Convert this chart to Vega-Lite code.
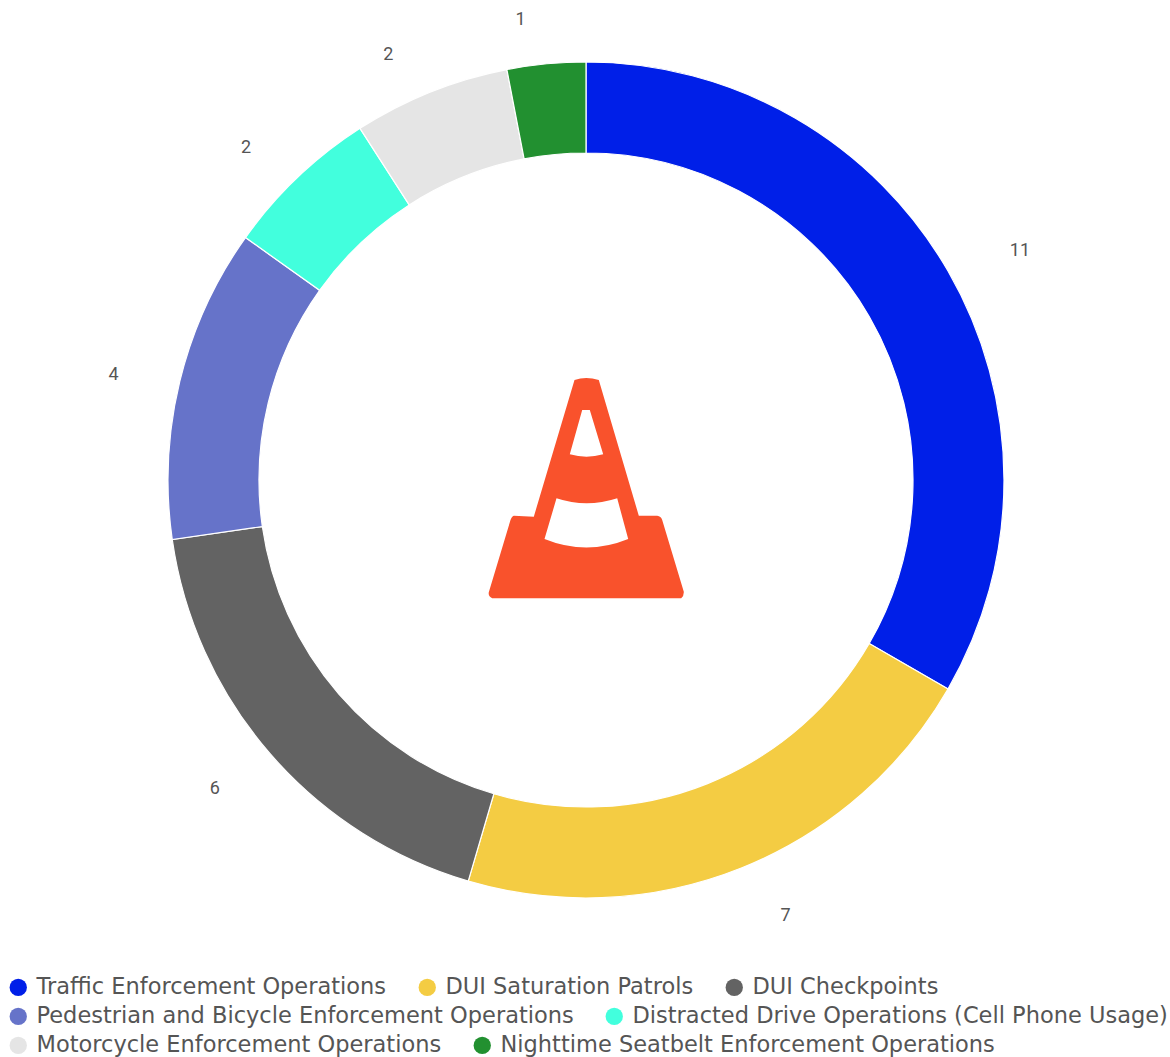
{
  "$schema": "https://vega.github.io/schema/vega-lite/v6.json",
  "width": 1168,
  "height": 960,
  "padding": {"left": 2, "top": 0, "right": 0, "bottom": 97},
  "autosize": {"type": "none"},
  "background": "white",
  "config": {
    "view": {"stroke": null},
    "font": "DejaVu Sans",
    "legend": {
      "orient": "none",
      "direction": "horizontal",
      "title": null,
      "symbolType": "circle",
      "symbolSize": 300,
      "symbolStrokeWidth": 0,
      "symbolOpacity": 1,
      "labelFont": "DejaVu Sans",
      "labelFontSize": 22.5,
      "labelColor": "#555555",
      "labelOffset": 7,
      "columnPadding": 29,
      "labelLimit": 700,
      "gridAlign": "each"
    }
  },
  "data": {"values": [
    {"idx": 1, "name": "Traffic Enforcement Operations", "value": 11, "row": 1},
    {"idx": 2, "name": "DUI Saturation Patrols", "value": 7, "row": 1},
    {"idx": 3, "name": "DUI Checkpoints", "value": 6, "row": 1},
    {"idx": 4, "name": "Pedestrian and Bicycle Enforcement Operations", "value": 4, "row": 2},
    {"idx": 5, "name": "Distracted Drive Operations (Cell Phone Usage)", "value": 2, "row": 2},
    {"idx": 6, "name": "Motorcycle Enforcement Operations", "value": 2, "row": 3},
    {"idx": 7, "name": "Nighttime Seatbelt Enforcement Operations", "value": 1, "row": 3}
  ]},
  "transform": [
    {"stack": "value", "groupby": [], "sort": [{"field": "idx", "order": "ascending"}], "as": ["v0", "v1"]}
  ],
  "layer": [
    {
      "transform": [{"filter": "datum.row == 1"}],
      "mark": {"type": "arc", "radius": 418, "radius2": 327, "stroke": "white", "strokeWidth": 1.2},
      "encoding": {
        "theta": {"field": "v0", "type": "quantitative", "scale": {"domain": [0, 33]}},
        "theta2": {"field": "v1"},
        "color": {
          "field": "name", "type": "nominal",
          "scale": {"domain": ["Traffic Enforcement Operations", "DUI Saturation Patrols", "DUI Checkpoints"], "range": ["#001FE8", "#F4CC43", "#636363"]},
          "legend": {"columns": 3, "legendX": 5, "legendY": 976}
        }
      }
    },
    {
      "transform": [{"filter": "datum.row == 2"}],
      "mark": {"type": "arc", "radius": 418, "radius2": 327, "stroke": "white", "strokeWidth": 1.2},
      "encoding": {
        "theta": {"field": "v0", "type": "quantitative", "scale": {"domain": [0, 33]}},
        "theta2": {"field": "v1"},
        "color": {
          "field": "name", "type": "nominal",
          "scale": {"domain": ["Pedestrian and Bicycle Enforcement Operations", "Distracted Drive Operations (Cell Phone Usage)"], "range": ["#6673C9", "#42FFDD"]},
          "legend": {"columns": 2, "legendX": 5, "legendY": 1005}
        }
      }
    },
    {
      "transform": [{"filter": "datum.row == 3"}],
      "mark": {"type": "arc", "radius": 418, "radius2": 327, "stroke": "white", "strokeWidth": 1.2},
      "encoding": {
        "theta": {"field": "v0", "type": "quantitative", "scale": {"domain": [0, 33]}},
        "theta2": {"field": "v1"},
        "color": {
          "field": "name", "type": "nominal",
          "scale": {"domain": ["Motorcycle Enforcement Operations", "Nighttime Seatbelt Enforcement Operations"], "range": ["#E5E5E5", "#229030"]},
          "legend": {"columns": 2, "legendX": 5, "legendY": 1034}
        }
      }
    },
    {
      "mark": {
        "type": "text", "radius": 478, "font": "Roboto", "fontSize": 18, "fill": "#555555",
        "dx": {"expr": "[20, 22, -10, -8, -10, -20, -20][datum.idx - 1]"},
        "dy": {"expr": "[10, -8, -4, 8, 14, 19, 16][datum.idx - 1]"}
      },
      "encoding": {
        "theta": {"field": "value", "type": "quantitative", "stack": true, "scale": {"domain": [0, 33]}},
        "detail": {"field": "name"},
        "order": {"field": "idx", "type": "quantitative"},
        "text": {"field": "value", "type": "quantitative"}
      }
    },
    {
      "data": {"values": [{"icon": "traffic cone"}]},
      "mark": {
        "type": "point", "filled": true, "fill": "#F9522C", "stroke": null, "opacity": 1, "size": 4,
        "shape": "M-11.5 -100Q0 -104 12.8 -100L52.8 35.7L71.2 35.7Q75 36 76.2 40L97.8 111.7Q98 116 95.2 118.3L-93.8 118.3Q-98 116 -97.2 112.3L-75.5 40Q-74 36 -72.2 35.7L-52.2 36.7ZM-3.8 -70L-16.2 -25.7Q0.5 -21 17.2 -25.7L3.8 -70ZM-29.5 18.3L-41.5 59Q0.5 76 42.2 59L31.2 18.3Q0.5 28.3 -29.5 18.3Z"
      },
      "encoding": {}
    }
  ],
  "resolve": {"scale": {"color": "independent"}}
}
